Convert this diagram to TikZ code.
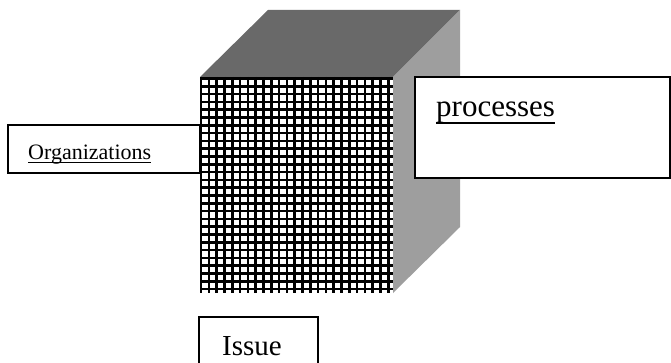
\documentclass[tikz,border=0pt]{standalone}
\usepackage{fontspec}
\setmainfont{Liberation Serif}
\usepackage{tikz}

\definecolor{caraarriba}{gray}{0.41}
\definecolor{caralado}{gray}{0.62}

\begin{document}
\begin{tikzpicture}[x=1pt, y=-1pt,
    caja/.style={draw, line width=1.6pt, fill=white},
    texto/.style={inner sep=0pt, anchor=base west},
    subrayado/.style={line width=1.2pt}]
    \useasboundingbox (0,0) rectangle (671,363);

    % Caja de la izquierda
    \draw[caja] (8,125) rectangle (200,173);

    % Cara superior y cara lateral del cubo
    \fill[caraarriba] (200,77) -- (268,10) -- (460,10) -- (393,77) -- cycle;
    \fill[caralado] (393,77) -- (460,10) -- (460,227) -- (393,293) -- cycle;

    % Cara frontal con rejilla
    \fill[white] (200,77) rectangle (393,293);
    \begin{scope}
        \clip (200,77) rectangle (393,293);
        \foreach \i in {0,...,24}
            \draw[line width=2.6pt] (201+7.8*\i,77) -- (201+7.8*\i,293);
        \foreach \j in {0,...,27}
            \draw[line width=2.6pt] (200,78.5+7.8*\j) -- (393,78.5+7.8*\j);
    \end{scope}

    % Cajas de la derecha y de abajo
    \draw[caja] (415,77) rectangle (670,178);
    \draw[caja] (199,317) rectangle (318,380);

    % Textos
    \node[texto, font=\fontsize{22}{26}\selectfont] (org) at (28,160) {Organizations};
    \draw[line width=1pt] ([yshift=-2.5pt]org.base west) -- ([yshift=-2.5pt]org.base east);

    \node[texto, font=\fontsize{31}{36}\selectfont] (proc) at (436,117) {processes};
    \draw[subrayado] ([yshift=-6pt]proc.base west) -- ([yshift=-6pt]proc.base east);

    \node[texto, font=\fontsize{29}{34}\selectfont] (issue) at (222,355) {Issue};
\end{tikzpicture}
\end{document}
